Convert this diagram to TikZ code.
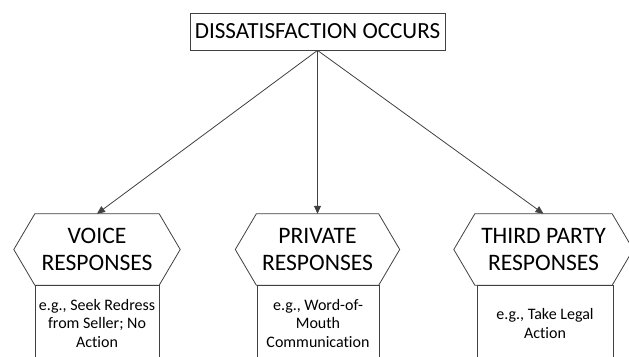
\documentclass[tikz,border=0pt]{standalone}
\usepackage{fontspec}
\setmainfont{Carlito}[RawFeature={-liga}]
\usetikzlibrary{arrows.meta}
\tikzset{
  box/.style={draw=black!75, line width=0.8pt, inner sep=0pt, align=center},
  hexa/.style={inner sep=0pt, minimum height=71pt, align=center, font=\fontsize{23.6}{27}\selectfont},
  note/.style={box, anchor=north, minimum height=76pt, font=\fontsize{16}{18.5}\selectfont},
  link/.style={draw=black!75, line width=0.8pt, -{Triangle[length=8pt,width=7pt]}}
}
% hexagon round a named node
\newcommand{\hexagon}[1]{%
  \draw[black!75, line width=0.8pt] (#1.north west) -- (#1.north east)
    -- ([xshift=21pt]#1.east) -- (#1.south east) -- (#1.south west)
    -- ([xshift=-21pt]#1.west) -- cycle;}
\begin{document}
\begin{tikzpicture}[x=1pt,y=-1pt]
  \useasboundingbox (0,0) rectangle (629,356);
  \node[box, minimum width=255pt, minimum height=37pt,
    font=\fontsize{23.1}{27}\selectfont] (occurs) at (317.5,31.5) {DISSATISFACTION OCCURS};
  % the three responses
  \node[note, minimum width=124pt] (voiceex) at (97,285) {e.g., Seek Redress\\from Seller; No\\Action};
  \node[note, minimum width=122pt] (privateex) at (318,285) {e.g., Word-of-\\Mouth\\Communication};
  \node[note, minimum width=136pt] (thirdex) at (545,285) {e.g., Take Legal\\Action};
  \node[hexa, minimum width=124pt] (voice) at (97,249.5) {VOICE\\RESPONSES};
  \node[hexa, minimum width=122pt] (private) at (317.5,249.5) {PRIVATE\\RESPONSES};
  \node[hexa, minimum width=137pt] (third) at (543.5,249.5) {THIRD PARTY\\RESPONSES};
  \hexagon{voice}
  \hexagon{private}
  \hexagon{third}
  \begin{scope}[link]
    \draw (occurs.south) to (voice.north);
    \draw (occurs.south) to (private.north);
    \draw (occurs.south) to (third.north);
  \end{scope}
\end{tikzpicture}
\end{document}
